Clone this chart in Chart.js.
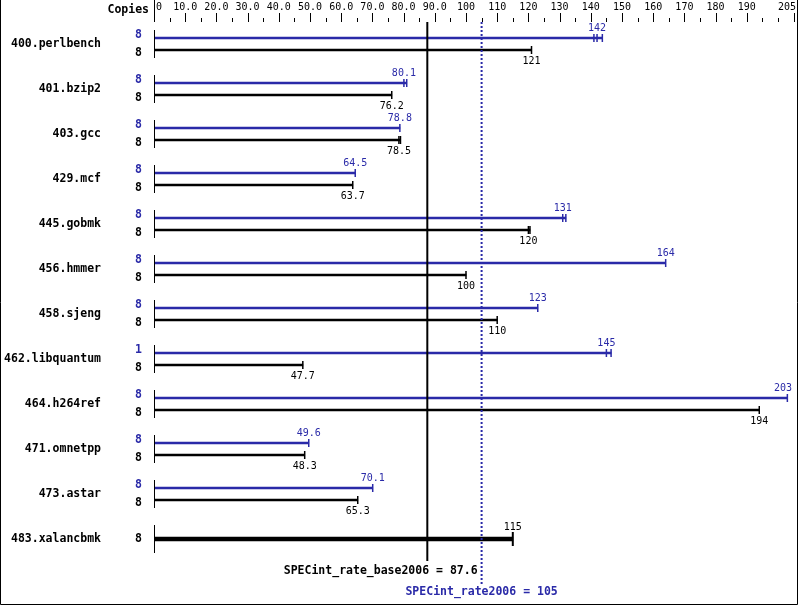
<!DOCTYPE html>
<html>
<head>
<meta charset="utf-8">
<script src="https://cdn.jsdelivr.net/npm/chart.js@4/dist/chart.umd.min.js"></script>
<style>
    html, body { margin: 0; padding: 0; background: #ffffff; }
    #chart { display: block; }
</style>
</head>
<body>
<canvas id="chart" width="799" height="606"></canvas>
<script>
// Les données du graphique
var benchmarks = ['400.perlbench', '401.bzip2', '403.gcc', '429.mcf', '445.gobmk', '456.hmmer',
    '458.sjeng', '462.libquantum', '464.h264ref', '471.omnetpp', '473.astar', '483.xalancbmk'];
var peakValues = [142, 80.1, 78.8, 64.5, 131, 164, 123, 145, 203, 49.6, 70.1, 115];
var baseValues = [121, 76.2, 78.5, 63.7, 120, 100, 110, 47.7, 194, 48.3, 65.3, 115];
var peakCopies = [8, 8, 8, 8, 8, 8, 8, 1, 8, 8, 8, 8];
var baseCopies = [8, 8, 8, 8, 8, 8, 8, 8, 8, 8, 8, 8];
// autres runs visibles (petits traits en bout de barre)
var peakRuns = [[141.0, 143.7], [81.0], [], [], [132], [], [], [146.5], [], [], [], []];
var baseRuns = [[], [], [79.0], [], [120.5], [], [], [], [], [], [], []];
var tickValues = [0, 10, 20, 30, 40, 50, 60, 70, 80, 90, 100, 110, 120, 130, 140, 150, 160, 170, 180, 190, 205];
var baseRate = 87.6;
var peakRate = 105;

var blue = '#2a2aa8';
var black = '#000000';
var rowOffset = 6 / 45; // écart entre la ligne peak et la ligne base

function tickLabel(v) {
    if (v === 0) return '0';
    if (v < 100) return v.toFixed(1);
    return String(v);
}

function barEnd(value, runs) {
    return Math.max.apply(null, [value].concat(runs));
}

// Construire les datasets (483.xalancbmk : peak = base, une seule barre épaisse)
var peakData = [], baseData = [], bothData = [];
benchmarks.forEach(function (name, i) {
    if (peakValues[i] === baseValues[i] && i === benchmarks.length - 1) {
        bothData.push({ x: [0, baseValues[i]], y: i });
    } else {
        peakData.push({ x: [0, barEnd(peakValues[i], peakRuns[i])], y: i - rowOffset });
        baseData.push({ x: [0, barEnd(baseValues[i], baseRuns[i])], y: i + rowOffset });
    }
});

var specPlugin = {
    id: 'specPlugin',
    afterDatasetsDraw: function (chart) {
        var ctx = chart.ctx;
        var xs = chart.scales.x;
        var ys = chart.scales.y;
        var area = chart.chartArea;
        var x0 = Math.round(xs.getPixelForValue(0)) + 0.5;

        ctx.save();

        // Axe du haut : graduations et libellés
        ctx.strokeStyle = black;
        ctx.lineWidth = 1;
        for (var t = 0; t <= 205; t += 5) {
            var px = Math.round(xs.getPixelForValue(t)) + 0.5;
            var isLong = tickValues.indexOf(t) !== -1;
            ctx.beginPath();
            ctx.moveTo(px, isLong ? 13 : 18);
            ctx.lineTo(px, 22);
            ctx.stroke();
        }
        ctx.font = '10px "DejaVu Sans Mono"';
        ctx.fillStyle = black;
        ctx.textBaseline = 'middle';
        tickValues.forEach(function (v) {
            var px = xs.getPixelForValue(v);
            if (v === 0) {
                ctx.textAlign = 'left';
                ctx.fillText(tickLabel(v), px + 2, 7);
            } else if (v === 205) {
                ctx.textAlign = 'right';
                ctx.fillText(tickLabel(v), 796, 7);
            } else {
                ctx.textAlign = 'center';
                ctx.fillText(tickLabel(v), px, 7);
            }
        });

        // En-tête "Copies" et séparateur
        ctx.font = 'bold 11.5px "DejaVu Sans Mono"';
        ctx.textAlign = 'right';
        ctx.fillText('Copies', 149, 10);
        ctx.beginPath();
        ctx.moveTo(x0, 0);
        ctx.lineTo(x0, 22);
        ctx.stroke();

        benchmarks.forEach(function (name, i) {
            var yc = ys.getPixelForValue(i);
            var single = bothData.length && i === benchmarks.length - 1;

            // Nom du benchmark
            ctx.font = 'bold 11.5px "DejaVu Sans Mono"';
            ctx.fillStyle = black;
            ctx.textAlign = 'right';
            ctx.textBaseline = 'middle';
            ctx.fillText(name, 101, yc);

            // Petit trait vertical à zéro
            ctx.strokeStyle = black;
            ctx.lineWidth = 1;
            ctx.beginPath();
            ctx.moveTo(x0, yc - 14);
            ctx.lineTo(x0, yc + 14);
            ctx.stroke();

            if (single) {
                ctx.fillText(String(baseCopies[i]), 142, yc);
                var xe = xs.getPixelForValue(baseValues[i]);
                ctx.lineWidth = 2;
                ctx.beginPath();
                ctx.moveTo(xe, yc - 7);
                ctx.lineTo(xe, yc + 7);
                ctx.stroke();
                ctx.font = '10px "DejaVu Sans Mono"';
                ctx.textAlign = 'center';
                ctx.fillText(String(baseValues[i]), xe, yc - 12);
                return;
            }

            var yp = ys.getPixelForValue(i - rowOffset);
            var yb = ys.getPixelForValue(i + rowOffset);

            // Nombre de copies
            ctx.font = 'bold 11.5px "DejaVu Sans Mono"';
            ctx.textAlign = 'right';
            ctx.fillStyle = blue;
            ctx.fillText(String(peakCopies[i]), 142, yp - 3);
            ctx.fillStyle = black;
            ctx.fillText(String(baseCopies[i]), 142, yb + 3);

            // Traits de fin de barre
            ctx.lineWidth = 1.5;
            ctx.strokeStyle = blue;
            [peakValues[i]].concat(peakRuns[i]).forEach(function (v) {
                var px = xs.getPixelForValue(v);
                ctx.beginPath();
                ctx.moveTo(px, yp - 4);
                ctx.lineTo(px, yp + 4);
                ctx.stroke();
            });
            ctx.strokeStyle = black;
            [baseValues[i]].concat(baseRuns[i]).forEach(function (v) {
                var px = xs.getPixelForValue(v);
                ctx.beginPath();
                ctx.moveTo(px, yb - 4);
                ctx.lineTo(px, yb + 4);
                ctx.stroke();
            });

            // Valeurs
            ctx.font = '10px "DejaVu Sans Mono"';
            ctx.textAlign = 'center';
            ctx.fillStyle = blue;
            var lp = Math.min(xs.getPixelForValue(peakValues[i]), 783);
            ctx.fillText(String(peakValues[i]), lp, yp - 10);
            ctx.fillStyle = black;
            ctx.fillText(String(baseValues[i]), xs.getPixelForValue(baseValues[i]), yb + 11);
        });

        // Lignes de référence
        var xb = xs.getPixelForValue(baseRate);
        var xp = xs.getPixelForValue(peakRate);
        ctx.strokeStyle = black;
        ctx.lineWidth = 2;
        ctx.beginPath();
        ctx.moveTo(xb, area.top);
        ctx.lineTo(xb, 561);
        ctx.stroke();

        ctx.strokeStyle = blue;
        ctx.setLineDash([2, 2]);
        ctx.beginPath();
        ctx.moveTo(xp, area.top);
        ctx.lineTo(xp, 584);
        ctx.stroke();
        ctx.setLineDash([]);

        ctx.font = 'bold 11.5px "DejaVu Sans Mono"';
        ctx.textBaseline = 'middle';
        ctx.fillStyle = black;
        ctx.textAlign = 'right';
        ctx.fillText('SPECint_rate_base2006 = ' + baseRate, xp - 4, 571);
        ctx.fillStyle = blue;
        ctx.textAlign = 'center';
        ctx.fillText('SPECint_rate2006 = ' + peakRate, xp, 592);

        // Cadre
        ctx.strokeStyle = black;
        ctx.lineWidth = 1;
        ctx.beginPath();
        ctx.moveTo(0.5, 0);
        ctx.lineTo(0.5, 604.5);
        ctx.lineTo(797.5, 604.5);
        ctx.lineTo(797.5, 0);
        ctx.stroke();

        ctx.restore();
    }
};

var ctx = document.getElementById('chart').getContext('2d');
var chart = new Chart(ctx, {
    type: 'bar',
    data: {
        datasets: [
            { label: 'peak', data: peakData, backgroundColor: blue, barThickness: 2, grouped: false },
            { label: 'base', data: baseData, backgroundColor: black, barThickness: 2, grouped: false },
            { label: 'both', data: bothData, backgroundColor: black, barThickness: 4, grouped: false }
        ]
    },
    options: {
        indexAxis: 'y',
        responsive: false,
        animation: false,
        layout: {
            padding: { left: 154, right: 799 - 793.6, top: 22, bottom: 606 - 584 }
        },
        scales: {
            x: { type: 'linear', min: 0, max: 205, display: false, offset: false },
            y: { type: 'linear', min: -22 / 45, max: 12, reverse: true, display: false, offset: false }
        },
        plugins: {
            legend: { display: false },
            tooltip: { enabled: false }
        }
    },
    plugins: [specPlugin]
});
</script>
</body>
</html>
